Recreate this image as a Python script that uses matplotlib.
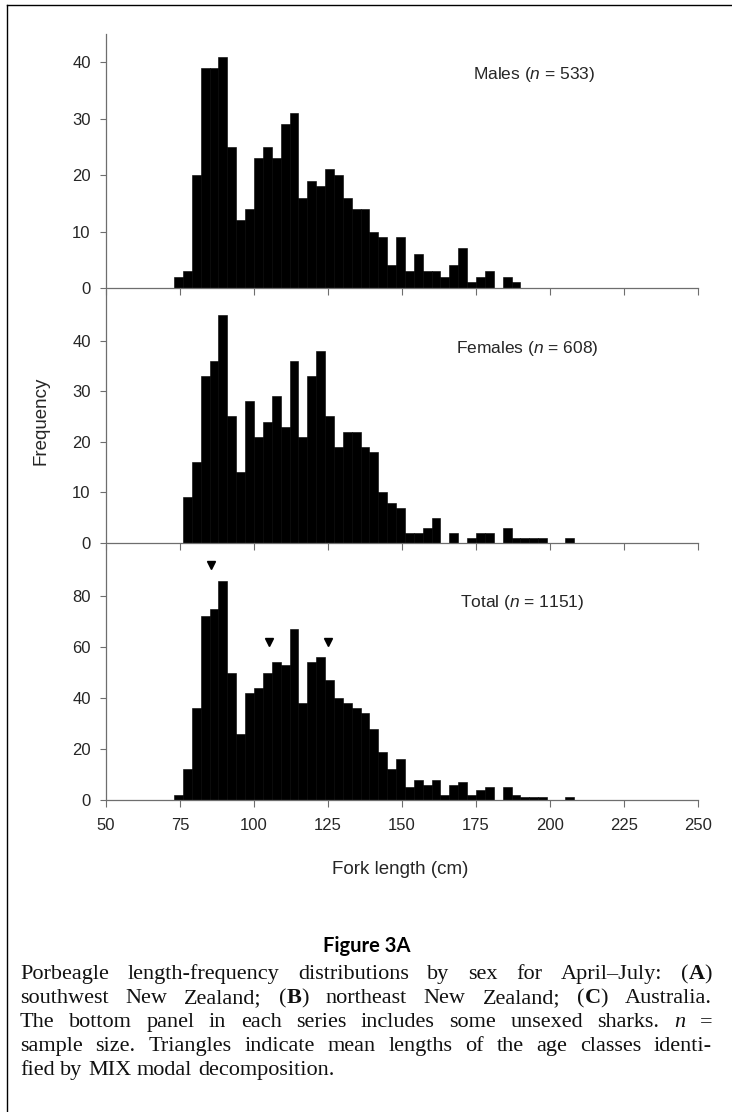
import matplotlib.pyplot as plt
from matplotlib.lines import Line2D

# 3-cm length classes (lower edge, cm)
bin_start = [73, 76, 79, 82, 85, 88, 91, 94, 97, 100,
             103, 106, 109, 112, 115, 118, 121, 124, 127, 130,
             133, 136, 139, 142, 145, 148, 151, 154, 157, 160,
             163, 166, 169, 172, 175, 178, 181, 184, 187, 190,
             193, 196, 199, 202, 205]

males = [2, 3, 20, 39, 39, 41, 25, 12, 14, 23,
         25, 23, 29, 31, 16, 19, 18, 21, 20, 16,
         14, 14, 10, 9, 4, 9, 3, 6, 3, 3,
         2, 4, 7, 1, 2, 3, 0, 2, 1, 0,
         0, 0, 0, 0, 0]

females = [0, 9, 16, 33, 36, 45, 25, 14, 28, 21,
           24, 29, 23, 36, 21, 33, 38, 25, 19, 22,
           22, 19, 18, 10, 8, 7, 2, 2, 3, 5,
           0, 2, 0, 1, 2, 2, 0, 3, 1, 1,
           1, 1, 0, 0, 1]

total = [2, 12, 36, 72, 75, 86, 50, 26, 42, 44,
         50, 54, 53, 67, 38, 54, 56, 47, 40, 38,
         36, 34, 28, 19, 12, 16, 5, 8, 6, 8,
         2, 6, 7, 2, 4, 5, 0, 5, 2, 1,
         1, 1, 0, 0, 1]

# mean lengths of age classes (MIX), marked above the total histogram
mix_means = [85.5, 105, 125]
mix_marker_y = [92, 62, 62]

x_ticks = [50, 75, 100, 125, 150, 175, 200, 225, 250]

W, H = 732, 1112


def fx(px):
    return px / W


def fy(py):
    return 1 - py / H


plt.rcParams['font.family'] = 'Liberation Sans'
plt.rcParams['mathtext.fontset'] = 'custom'
plt.rcParams['mathtext.rm'] = 'Liberation Sans'
plt.rcParams['mathtext.it'] = 'Liberation Sans:italic'

fig = plt.figure(figsize=(W / 100, H / 100), dpi=100)

axis_col = '#6e6e6e'
text_col = '#262626'

# (counts, top px, bottom px, ymax, yticks, label, n, label x px, label y px)
panels = [
    (males, 34, 288, 45, [0, 10, 20, 30, 40], 'Males', 533, 473, 75),
    (females, 290, 543, 50, [0, 10, 20, 30, 40], 'Females', 608, 456, 349),
    (total, 545, 800, 100, [0, 20, 40, 60, 80], 'Total', 1151, 460, 602),
]

axes = []
for counts, top, bottom, ymax, yt, name, n, lx, ly in panels:
    ax = fig.add_axes([fx(106), fy(bottom), fx(698) - fx(106), (bottom - top) / H])
    ax.set_facecolor('none')
    ax.bar(bin_start, counts, width=3, align='edge', color='black',
           edgecolor='black', linewidth=0.4)
    ax.set_xlim(50, 250)
    ax.set_ylim(0, ymax)
    ax.set_xticks(x_ticks)
    ax.set_yticks(yt)
    for s in ['top', 'right']:
        ax.spines[s].set_visible(False)
    for s in ['left', 'bottom']:
        ax.spines[s].set_color(axis_col)
        ax.spines[s].set_linewidth(0.9)
    ax.tick_params(axis='both', colors=axis_col, labelcolor=text_col,
                   labelsize=12, length=4, width=0.8)
    ax.tick_params(axis='y', pad=7)
    ax.tick_params(axis='x', pad=8, length=5)
    fig.text(fx(lx), fy(ly), name + r' ($n$ = ' + str(n) + ')',
             fontsize=12.5, color=text_col, ha='left', va='center')
    axes.append(ax)

for ax in axes[:-1]:
    ax.tick_params(labelbottom=False)

axes[-1].plot(mix_means, mix_marker_y, 'v', color='black', markersize=5.5)

fig.text(fx(41), fy(421), 'Frequency', rotation=90, fontsize=13.5,
         color=text_col, ha='center', va='center')
fig.text(fx(400), fy(870), 'Fork length (cm)', fontsize=13.5,
         color=text_col, ha='center', va='center')

# page frame
fig.add_artist(Line2D([fx(7), fx(7)], [fy(5), 0], transform=fig.transFigure,
                      color='black', linewidth=1))
fig.add_artist(Line2D([fx(7), 1], [fy(5), fy(5)], transform=fig.transFigure,
                      color='black', linewidth=1))

fig.text(fx(367), fy(946), 'Figure 3A', family='Lato', fontweight='bold',
         fontsize=14.5, ha='center', va='center', color='black')

# caption, justified word by word
cap_lines = [
    'Porbeagle length-frequency distributions by sex for April\u2013July: (A)',
    'southwest New Zealand; (B) northeast New Zealand; (C) Australia.',
    'The bottom panel in each series includes some unsexed sharks. n =',
    'sample size. Triangles indicate mean lengths of the age classes identi-',
    'fied by MIX modal decomposition.',
]
special = {
    '(A)': [('(', 'r'), ('A', 'b'), (')', 'r')],
    '(B)': [('(', 'r'), ('B', 'b'), (')', 'r')],
    '(C)': [('(', 'r'), ('C', 'b'), (')', 'r')],
    'n': [('n', 'i')],
}
cap_size = 16
cap_x0, cap_x1 = 20, 712
cap_base = 979
cap_step = 24

renderer = fig.canvas.get_renderer()


def style_kw(st):
    return dict(family='Liberation Serif', fontsize=cap_size,
                fontweight='bold' if st == 'b' else 'normal',
                fontstyle='italic' if st == 'i' else 'normal')


def piece_width(s, st):
    t = fig.text(0, 0, s, **style_kw(st))
    w = t.get_window_extent(renderer).width
    t.remove()
    return w


space_w = piece_width('a a', 'r') - piece_width('aa', 'r')

for i, line in enumerate(cap_lines):
    words = [special.get(w, [(w, 'r')]) for w in line.split(' ')]
    widths = [[piece_width(s, st) for s, st in w] for w in words]
    total_w = sum(sum(w) for w in widths)
    if i < len(cap_lines) - 1:
        gap = (cap_x1 - cap_x0 - total_w) / (len(words) - 1)
    else:
        gap = space_w
    x = cap_x0
    y = cap_base + i * cap_step
    for w, ws in zip(words, widths):
        for (s, st), pw in zip(w, ws):
            fig.text(fx(x), fy(y), s, ha='left', va='baseline',
                     color='#111111', **style_kw(st))
            x += pw
        x += gap

fig.savefig('out.png', dpi=100)
